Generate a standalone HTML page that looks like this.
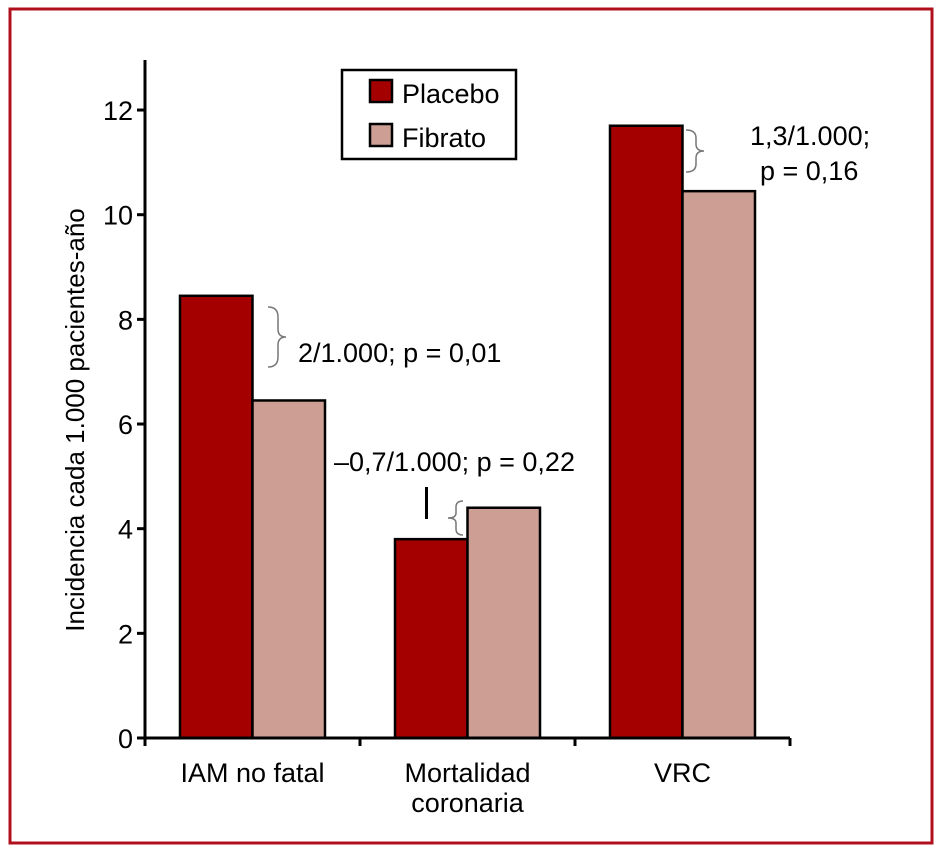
<!DOCTYPE html>
<html><head><meta charset="utf-8"><style>
html,body{margin:0;padding:0;background:#fff;}
svg{display:block;font-family:"Liberation Sans Narrow","Liberation Sans",sans-serif;}
</style></head><body>
<svg id="chart" width="943" height="853" viewBox="0 0 943 853" xmlns="http://www.w3.org/2000/svg">
<rect x="10" y="9" width="922" height="834" fill="none" stroke="#b0101c" stroke-width="3"/>
<g id="bars"></g>
<g id="axes"></g>
<text transform="translate(84,420) rotate(-90)" text-anchor="middle" font-size="26">Incidencia cada 1.000 pacientes-año</text>
<g>
<rect x="342" y="70" width="174" height="89" fill="#fff" stroke="#000" stroke-width="2.5"/>
<rect x="370" y="80" width="22" height="22" fill="#a50000" stroke="#000" stroke-width="2.5"/>
<text x="402" y="103" font-size="27">Placebo</text>
<rect x="370" y="124" width="22" height="22" fill="#cc9e94" stroke="#000" stroke-width="2.5"/>
<text x="402" y="147" font-size="27">Fibrato</text>
</g>
<g font-size="27">
<path d="M268,307 q10,0 10,10 v12 q0,8 8,8 q-8,0 -8,8 v12 q0,10 -10,10" fill="none" stroke="#777" stroke-width="1.5"/>
<text x="298" y="362">2/1.000; p = 0,01</text>
<text x="334" y="471">–0,7/1.000; p = 0,22</text>
<rect x="425" y="487" width="3" height="32" fill="#000"/>
<path d="M463,501 q-7,0 -7,6 v6 q0,5 -8,5 q8,0 8,5 v6 q0,6 7,6" fill="none" stroke="#777" stroke-width="1.5"/>
<path d="M686,130 q10,0 10,8 v6 q0,7 8,7 q-8,0 -8,7 v6 q0,8 -10,8" fill="none" stroke="#777" stroke-width="1.5"/>
<text x="750" y="145">1,3/1.000;</text>
<text x="760" y="180">p = 0,16</text>
</g>
<script>
const categories=["IAM no fatal","Mortalidad coronaria","VRC"];
const placebo=[8.45,3.8,11.7];
const fibrato=[6.45,4.4,10.45];
const yTicks=[0,2,4,6,8,10,12];
const NS="http://www.w3.org/2000/svg";
const x0=145,x1=790,yBase=738,pxPerUnit=52.33;
function y(v){return yBase-v*pxPerUnit;}
const groupW=(x1-x0)/categories.length;
const bars=document.getElementById('bars'),axes=document.getElementById('axes');
function mk(tag,attrs,parent){const e=document.createElementNS(NS,tag);for(const k in attrs)e.setAttribute(k,attrs[k]);parent.appendChild(e);return e;}
categories.forEach((c,i)=>{
  const gx=x0+groupW*i+groupW/2;
  const bw=72.5;
  const r1=mk('rect',{x:gx-bw,y:y(placebo[i]),width:bw,height:yBase-y(placebo[i]),fill:'#a50000',stroke:'#000','stroke-width':2.5},bars);
  
  
  const r2=mk('rect',{x:gx,y:y(fibrato[i]),width:bw,height:yBase-y(fibrato[i]),fill:'#cc9e94',stroke:'#000','stroke-width':2.5},bars);
  
  
  const words=c.split(' ');
  const lines=c==="Mortalidad coronaria"?["Mortalidad","coronaria"]:[c];
  lines.forEach((l,j)=>{
    const t=mk('text',{x:gx,y:782+j*30,'text-anchor':'middle','font-size':27},axes);
    t.textContent=l;
    
    
  });
});
const ya=mk('line',{x1:x0,y1:60,x2:x0,y2:yBase+1,stroke:'#000','stroke-width':3},axes);


const xa=mk('line',{x1:x0-1,y1:yBase,x2:x1,y2:yBase,stroke:'#000','stroke-width':3},axes);


for(let i=0;i<=categories.length;i++){
  const tx=x0+groupW*i;
  const tk=mk('line',{x1:tx,y1:yBase,x2:tx,y2:yBase+8,stroke:'#000','stroke-width':3},axes);
  
  
}
yTicks.forEach(v=>{
  const tk=mk('line',{x1:x0-8,y1:y(v),x2:x0,y2:y(v),stroke:'#000','stroke-width':3},axes);
  
  
  const t=mk('text',{x:x0-12,y:y(v)+10,'text-anchor':'end','font-size':27},axes);
  t.textContent=v;
  
  
});
</script>
</svg>
</body></html>
